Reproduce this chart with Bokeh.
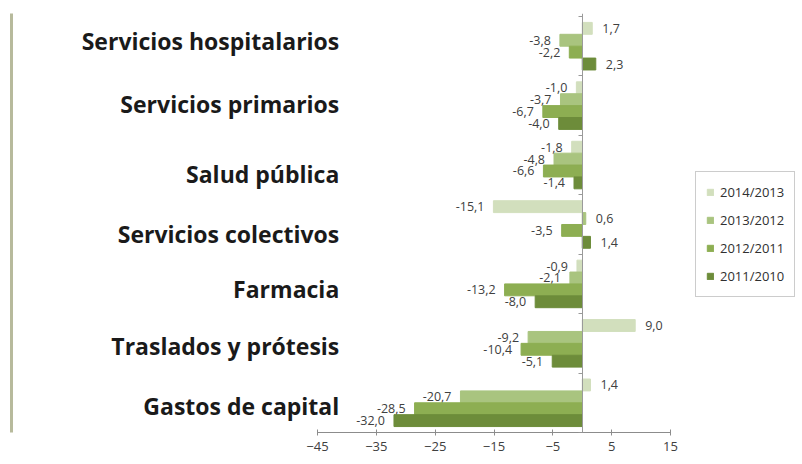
from bokeh.plotting import figure
from bokeh.models import (Range1d, LinearAxis, FixedTicker, Legend, LegendItem,
                          ColumnDataSource)
from bokeh.core.properties import value
from bokeh.embed import file_html
from bokeh.resources import INLINE

# ---- data (top category first) ----
categories = ["Servicios hospitalarios", "Servicios primarios", "Salud pública",
              "Servicios colectivos", "Farmacia", "Traslados y prótesis",
              "Gastos de capital"]
series_names = ["2014/2013", "2013/2012", "2012/2011", "2011/2010"]
v_2014_2013 = [1.7, -1.0, -1.8, -15.1, -0.9, 9.0, 1.4]
v_2013_2012 = [-3.8, -3.7, -4.8, 0.6, -2.1, -9.2, -20.7]
v_2012_2011 = [-2.2, -6.7, -6.6, -3.5, -13.2, -10.4, -28.5]
v_2011_2010 = [2.3, -4.0, -1.4, 1.4, -8.0, -5.1, -32.0]
x_ticks = [-45, -35, -25, -15, -5, 5, 15]

series_values = [v_2014_2013, v_2013_2012, v_2012_2011, v_2011_2010]
colors = ["#d2dfbd", "#a9c47f", "#8dae52", "#6d8c3a"]

# style: vertical nudges (screen px) of the big category labels
label_nudge = [-5, -2, 9, 10, 5, 3, 3]

n = len(categories)
FW, FH = 786, 419
L = 11          # frame left in picture pixels
scale = 353 / 60.0
x0 = -45 - (317 - L) / scale
x1 = x0 + FW / scale

p = figure(frame_width=FW, frame_height=FH, output_backend="svg",
           toolbar_location=None,
           x_range=Range1d(x0, x1), y_range=Range1d(0, n + 0.05),
           min_border_left=L, min_border_right=0, min_border_top=13,
           min_border_bottom=0)
p.grid.visible = False
p.outline_line_color = None
p.background_fill_color = "white"

# decorative left rule = default y axis
ya = p.yaxis[0]
ya.ticker = FixedTicker(ticks=[])
ya.axis_line_color = "#b7ba9c"
ya.axis_line_width = 3
ya.major_tick_line_color = None
ya.major_tick_in = 0
ya.major_tick_out = 0
ya.major_label_standoff = 0
ya.minor_tick_line_color = None

# x axis
xa = p.xaxis[0]
xa.ticker = FixedTicker(ticks=x_ticks)
xa.bounds = (x_ticks[0], x_ticks[-1])
xa.axis_line_color = "#8c8c8c"
xa.major_tick_line_color = "#8c8c8c"
xa.major_tick_in = 3
xa.major_tick_out = 3
xa.minor_tick_line_color = None
xa.major_label_text_font = "Open Sans"
xa.major_label_text_font_size = "13px"
xa.major_label_text_color = "#404040"
xa.major_label_standoff = 6

# zero axis with group boundary ticks
bounds_ticks = list(range(n + 1))
za = LinearAxis(fixed_location=0, ticker=FixedTicker(ticks=bounds_ticks),
                axis_line_color="#9a9a9a", major_tick_line_color="#9a9a9a",
                major_tick_in=4, major_tick_out=0, minor_tick_line_color=None,
                major_label_standoff=0,
                major_label_overrides={t: "" for t in bounds_ticks})
p.add_layout(za, "right")

items = []
offsets = [0.8, 0.6, 0.4, 0.2]
for s, (name, vals, col) in enumerate(zip(series_names, series_values, colors)):
    ys = [(n - 1 - i) + offsets[s] for i in range(n)]
    src = ColumnDataSource(dict(y=ys, v=vals))
    r = p.hbar(y="y", right="v", left=0, height=0.2, color=col, source=src)
    items.append(LegendItem(label=name, renderers=[r]))
    for align, off, sel in (("right", -9, [v < 0 for v in vals]),
                            ("left", 10, [v >= 0 for v in vals])):
        lx = [v for v, k in zip(vals, sel) if k]
        ly = [y for y, k in zip(ys, sel) if k]
        lt = [f"{v:.1f}".replace(".", ",") for v in lx]
        p.text(x=lx, y=ly, text=lt, text_align=align, text_baseline="middle",
               x_offset=off, text_font=value("Open Sans"),
               text_font_size="12.5px", text_color="#404040")

# category labels
p.text(x=[-41.3] * n, y=[(n - 1 - i) + 0.5 for i in range(n)], text=categories,
       y_offset=label_nudge,
       text_align="right", text_baseline="middle",
       text_font=value("Open Sans"), text_font_style="bold",
       text_font_size="23px", text_color="#1a1a1a")

legend = Legend(items=items, location=(695 - L, 135), orientation="vertical",
                border_line_color="#9a9a9a", border_line_width=1.5,
                padding=10, spacing=8, label_height=20, glyph_width=8,
                glyph_height=8, label_standoff=6, margin=0,
                label_text_font="Open Sans", label_text_font_size="13px",
                label_text_color="#303030", background_fill_alpha=1)
p.add_layout(legend, "center")

open("out.html", "w").write(file_html(p, INLINE))
